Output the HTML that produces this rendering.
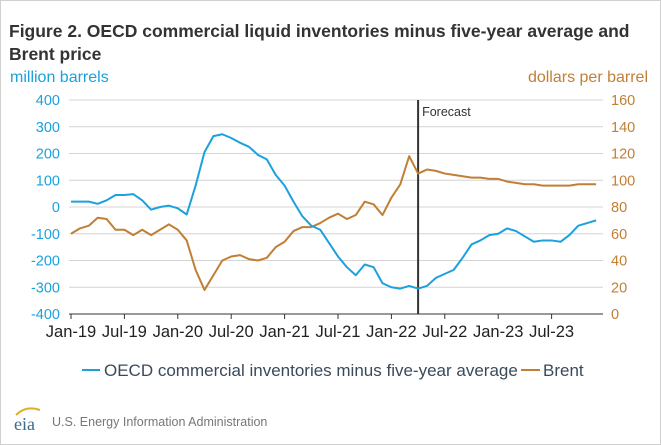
<!DOCTYPE html>
<html><head><meta charset="utf-8"><style>
body{margin:0;background:#fff;}
#wrap{position:relative;width:659px;height:443px;border:1px solid #d0d0d0;font-family:"Liberation Sans",sans-serif;overflow:hidden;}
#title{position:absolute;left:8px;top:19px;font-size:17.5px;font-weight:bold;line-height:23px;color:#333;}
</style></head><body>
<div id="wrap">
<div id="title">Figure 2. OECD commercial liquid inventories minus five-year average and<br>Brent price</div>
<svg id="chart" width="661" height="445" style="position:absolute;left:-1px;top:-1px"></svg>
</div>
<script>
const months = 60;
const xLabels = ["Jan-19","Jul-19","Jan-20","Jul-20","Jan-21","Jul-21","Jan-22","Jul-22","Jan-23","Jul-23"];
const leftTicks = [400,300,200,100,0,-100,-200,-300,-400];
const rightTicks = [160,140,120,100,80,60,40,20,0];
const inventories = [20,20,20,12,25,45,45,48,25,-10,0,5,-5,-28,80,205,265,272,258,240,225,195,178,120,80,20,-35,-70,-85,-135,-185,-225,-255,-215,-225,-285,-300,-305,-295,-305,-295,-265,-250,-235,-190,-140,-125,-105,-100,-80,-90,-110,-130,-125,-125,-130,-105,-70,-60,-50];
const brent = [60,64,66,72,71,63,63,59,63,59,63,67,63,55,33,18,29,40,43,44,41,40,42,50,54,62,65,65,68,72,75,71,74,84,82,74,87,97,118,105,108,107,105,104,103,102,102,101,101,99,98,97,97,96,96,96,96,97,97,97];
const forecastIndex = 39;
const X0=71, DX=8.9, PL=71, PR=603;
const x = i => X0 + i*DX;
const yL = v => 207 - v*0.2675;
const yR = v => 314 - v*1.3375;
const svg = document.getElementById('chart');
const NS='http://www.w3.org/2000/svg';
function mk(tag, attrs, text){const e=document.createElementNS(NS,tag);for(const k in attrs)e.setAttribute(k,attrs[k]);if(text!==undefined)e.textContent=text;svg.appendChild(e);return e;}
const BLUE='#1ba1dd', BROWN='#c07f35';
leftTicks.forEach((t,i)=>{
  const y=yL(t);
  if(t!==-400){const g=mk('line',{x1:PL-2,x2:PR,y1:y,y2:y,stroke:'#d4d4d4','stroke-width':1});
  
  }
  const l=mk('text',{x:60,y:y+5,'text-anchor':'end','font-size':14.5,fill:BLUE,'font-family':'Liberation Sans'},String(t));
  
  
});
rightTicks.forEach(t=>{
  const l=mk('text',{x:611,y:yR(t)+5,'font-size':14.5,fill:BROWN,'font-family':'Liberation Sans'},String(t));
  
  
});
const ax=mk('line',{x1:PL-2,x2:PR,y1:314,y2:314,stroke:'#333','stroke-width':1});


xLabels.forEach((l,i)=>{
  const xx=x(i*6);
  const tk=mk('line',{x1:xx,x2:xx,y1:314,y2:319,stroke:'#333'});
  
  
  const t=mk('text',{x:xx,y:337,'text-anchor':'middle','font-size':16.5,fill:'#222','font-family':'Liberation Sans'},l);
  
  
});
const fx=x(forecastIndex);
const fl=mk('line',{x1:fx,x2:fx,y1:100,y2:314,stroke:'#333','stroke-width':2});


const ft=mk('text',{x:fx+4,y:116,'font-size':12.5,fill:'#333','font-family':'Liberation Sans'},'Forecast');


const pb=mk('polyline',{points:brent.map((v,i)=>x(i)+','+yR(v)).join(' '),fill:'none',stroke:BROWN,'stroke-width':2,'stroke-linejoin':'round'});


const pi=mk('polyline',{points:inventories.map((v,i)=>x(i)+','+yL(v)).join(' '),fill:'none',stroke:BLUE,'stroke-width':2,'stroke-linejoin':'round'});


const lt=mk('text',{x:10,y:82,'font-size':16,fill:BLUE,'font-family':'Liberation Sans'},'million barrels');


const rt=mk('text',{x:648,y:82,'text-anchor':'end','font-size':16,fill:BROWN,'font-family':'Liberation Sans'},'dollars per barrel');


const l1=mk('line',{x1:82,x2:100,y1:370,y2:370,stroke:BLUE,'stroke-width':2});


const t1=mk('text',{x:104,y:376,'font-size':17,fill:'#3a4a5a','font-family':'Liberation Sans'},'OECD commercial inventories minus five-year average');


const l2=mk('line',{x1:521,x2:540,y1:370,y2:370,stroke:BROWN,'stroke-width':2});


const t2=mk('text',{x:543,y:376,'font-size':17,fill:'#3a4a5a','font-family':'Liberation Sans'},'Brent');


const lg=mk('text',{x:14,y:430,'font-size':18,fill:'#3a6a8a','font-family':'Liberation Serif'},'eia');


const arc=mk('path',{d:'M16 415 Q26 405 40 410',fill:'none',stroke:'#e0b020','stroke-width':2});


const src=mk('text',{x:52,y:426,'font-size':12.5,fill:'#777','font-family':'Liberation Sans'},'U.S. Energy Information Administration');


</script>
</body></html>
